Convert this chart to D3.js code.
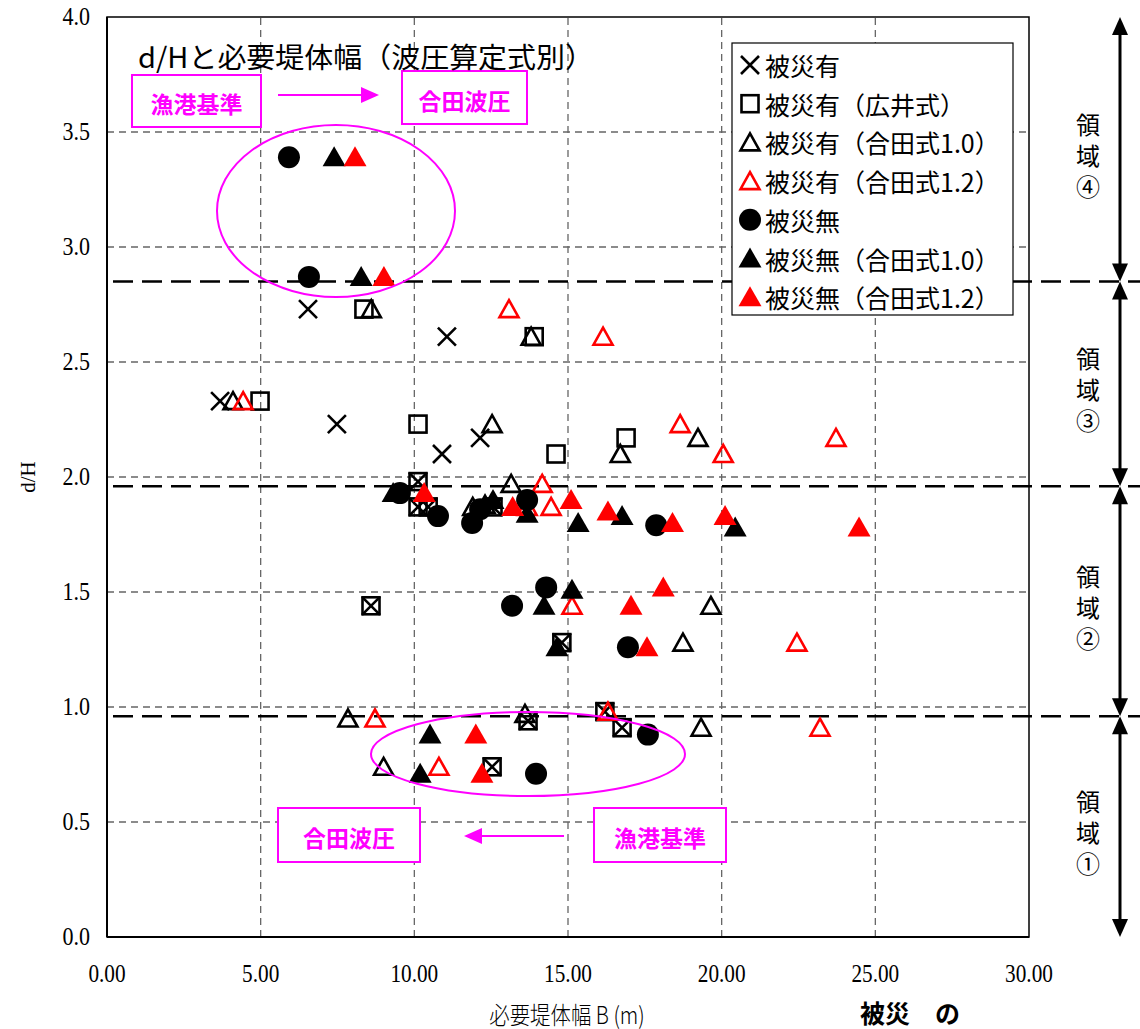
<!DOCTYPE html>
<html>
<head>
<meta charset="utf-8">
<script src="https://cdn.jsdelivr.net/npm/d3@7"></script>
<style>
  body { margin: 0; background: #fff; }
  svg { display: block; }
</style>
</head>
<body>
<div id="chart"></div>
<script>
// 被災有 (×)
const hisaiX = [[3.68,2.33],[6.54,2.73],[7.48,2.23],[11.06,2.61],[10.9,2.10],[12.14,2.17],
  [10.12,1.98],[10.12,1.87],[10.45,1.87],[12.56,1.87],[8.59,1.44],[14.8,1.28],[13.7,0.94],[16.2,0.98],[16.76,0.91],[12.53,0.74]];
// 被災有(広井式) (□)
const hisaiHiroi = [[4.98,2.33],[8.36,2.73],[13.9,2.61],[10.12,2.23],[14.61,2.10],[16.89,2.17],
  [10.12,1.98],[10.12,1.87],[10.45,1.87],[12.56,1.87],[8.59,1.44],[14.8,1.28],[13.7,0.94],[16.2,0.98],[16.76,0.91],[12.53,0.74]];
// 被災有(合田式1.0) (△ black)
const hisaiGoda10 = [[4.1,2.33],[8.6,2.73],[13.8,2.61],[12.53,2.23],[16.7,2.10],[19.23,2.17],[13.15,1.97],
  [11.9,1.87],[12.3,1.88],[19.65,1.44],[18.74,1.28],[7.84,0.95],[13.6,0.97],[19.33,0.91],[9.0,0.74]];
// 被災有(合田式1.2) (△ red)
const hisaiGoda12 = [[4.43,2.33],[13.08,2.73],[16.14,2.61],[18.65,2.23],[20.05,2.10],[23.72,2.17],[14.16,1.97],
  [13.67,1.87],[14.45,1.87],[15.13,1.44],[22.45,1.28],[8.72,0.95],[16.3,0.98],[23.2,0.91],[10.8,0.74]];
// 被災無 (●)
const mujiCircle = [[5.92,3.39],[6.57,2.87],[9.53,1.93],[10.77,1.83],[11.88,1.80],[12.14,1.86],[13.67,1.90],
  [17.87,1.79],[14.29,1.52],[13.18,1.44],[16.95,1.26],[17.6,0.88],[13.96,0.71]];
// 被災無(合田式1.0) (▲ black)
const mujiGoda10 = [[7.39,3.39],[8.27,2.87],[9.31,1.93],[12.56,1.90],[13.67,1.84],[15.33,1.80],[16.76,1.83],
  [20.44,1.78],[15.13,1.51],[14.22,1.44],[14.64,1.26],[10.51,0.88],[10.19,0.71]];
// 被災無(合田式1.2) (▲ red)
const mujiGoda12 = [[8.07,3.39],[9.01,2.87],[10.32,1.93],[13.2,1.87],[15.1,1.90],[16.3,1.85],[18.4,1.80],
  [20.11,1.83],[24.47,1.78],[17.05,1.44],[18.1,1.52],[17.57,1.26],[12.0,0.88],[12.2,0.71]];

const legendLabels = ['被災有','被災有（広井式）','被災有（合田式1.0）','被災有（合田式1.2）','被災無','被災無（合田式1.0）','被災無（合田式1.2）'];
const thresholds = [2.85, 1.96, 0.96];
const regionLabels = ['領域④','領域③','領域②','領域①'];
const xTicks = [0,5,10,15,20,25,30];
const yTicks = [0,0.5,1,1.5,2,2.5,3,3.5,4];

const W = 1140, H = 1029;
const margin = { left: 107, right: 111, top: 17, bottom: 92 };
const jp = '"Noto Sans CJK JP", "Noto Sans", sans-serif';
const serif = '"Liberation Serif", "DejaVu Serif", serif';

const svg = d3.select('#chart').append('svg')
  .attr('width', W).attr('height', H);

const x = d3.scaleLinear().domain([0, 30]).range([margin.left, W - margin.right]);
const y = d3.scaleLinear().domain([0, 4]).range([H - margin.bottom, margin.top]);

// grid
svg.append('g').selectAll('line').data(xTicks.slice(1, -1)).join('line')
  .attr('x1', d => x(d)).attr('x2', d => x(d))
  .attr('y1', y(0)).attr('y2', y(4))
  .attr('stroke', '#666').attr('stroke-width', 1.3).attr('stroke-dasharray', '7,5');
svg.append('g').selectAll('line').data(yTicks.slice(1, -1)).join('line')
  .attr('x1', x(0)).attr('x2', x(30))
  .attr('y1', d => y(d)).attr('y2', d => y(d))
  .attr('stroke', '#666').attr('stroke-width', 1.3).attr('stroke-dasharray', '7,5');

// frame
svg.append('rect')
  .attr('x', x(0)).attr('y', y(4))
  .attr('width', x(30) - x(0)).attr('height', y(0) - y(4))
  .attr('fill', 'none').attr('stroke', '#000').attr('stroke-width', 1.5);
svg.append('line')
  .attr('x1', x(0)).attr('x2', x(30)).attr('y1', y(0)).attr('y2', y(0))
  .attr('stroke', '#000').attr('stroke-width', 2);
svg.append('line')
  .attr('x1', x(0)).attr('x2', x(0)).attr('y1', y(0)).attr('y2', y(4))
  .attr('stroke', '#000').attr('stroke-width', 2);

// axes labels
svg.append('g').selectAll('text').data(yTicks).join('text')
  .attr('transform', d => `translate(${x(0) - 17},${y(d)}) scale(0.88,1)`)
  .attr('text-anchor', 'end').attr('dominant-baseline', 'central')
  .attr('font-family', serif).attr('font-size', 25)
  .text(d => d.toFixed(1));
svg.append('g').selectAll('text').data(xTicks).join('text')
  .attr('transform', d => `translate(${x(d)},${y(0) + 36}) scale(0.85,1)`)
  .attr('text-anchor', 'middle').attr('dominant-baseline', 'central')
  .attr('font-family', serif).attr('font-size', 25)
  .text(d => d.toFixed(2));
svg.append('text')
  .attr('transform', `translate(28,${(y(0) + y(4)) / 2}) rotate(-90)`)
  .attr('text-anchor', 'middle').attr('dominant-baseline', 'central')
  .attr('font-family', serif).attr('font-size', 21)
  .text('d/H');
svg.append('text')
  .attr('transform', `translate(567,1013) scale(0.85,1)`)
  .attr('text-anchor', 'middle').attr('dominant-baseline', 'central')
  .attr('font-family', jp).attr('font-size', 24).attr('font-weight', 300)
  .text('必要堤体幅 B (m)');
svg.append('text')
  .attr('x', 860).attr('y', 1012)
  .attr('dominant-baseline', 'central')
  .attr('font-family', jp).attr('font-size', 25).attr('font-weight', 'bold')
  .attr('xml:space', 'preserve')
  .text('被災　の');

// threshold lines
svg.append('g').selectAll('line').data(thresholds).join('line')
  .attr('x1', x(0) + 6).attr('x2', W)
  .attr('y1', d => y(d)).attr('y2', d => y(d))
  .attr('stroke', '#000').attr('stroke-width', 2.5).attr('stroke-dasharray', '20,9');

// region arrows
const bounds = [4, ...thresholds, 0];
const ax = 1120;
const arrows = svg.append('g');
regionLabels.forEach((lab, i) => {
  const top = y(bounds[i]), bot = y(bounds[i + 1]);
  arrows.append('line')
    .attr('x1', ax).attr('x2', ax).attr('y1', top + 10).attr('y2', bot - 10)
    .attr('stroke', '#000').attr('stroke-width', 3);
  arrows.append('path')
    .attr('d', `M${ax},${top} L${ax - 8},${top + 18} L${ax + 8},${top + 18} Z`).attr('fill', '#000');
  arrows.append('path')
    .attr('d', `M${ax},${bot} L${ax - 8},${bot - 18} L${ax + 8},${bot - 18} Z`).attr('fill', '#000');
  const mid = (top + bot) / 2;
  arrows.append('text')
    .attr('x', 1088).attr('y', mid + 10)
    .attr('text-anchor', 'middle')
    .style('writing-mode', 'vertical-rl')
    .style('letter-spacing', '7px')
    .attr('font-family', jp).attr('font-size', 24)
    .text(lab);
});

// markers
const RED = '#ff0000';
function drawMarker(g, type, color, cx, cy) {
  if (type === 'x') {
    const s = 9;
    g.append('path').attr('d', `M${cx - s},${cy - s}L${cx + s},${cy + s}M${cx - s},${cy + s}L${cx + s},${cy - s}`)
      .attr('stroke', color).attr('stroke-width', 2.6).attr('fill', 'none');
  } else if (type === 'sq') {
    g.append('rect').attr('x', cx - 8.5).attr('y', cy - 8.5).attr('width', 17).attr('height', 17)
      .attr('fill', 'none').attr('stroke', color).attr('stroke-width', 2.6);
  } else if (type === 'triO') {
    g.append('path').attr('d', `M${cx},${cy - 9} L${cx + 9.5},${cy + 8} L${cx - 9.5},${cy + 8} Z`)
      .attr('fill', 'none').attr('stroke', color).attr('stroke-width', 2.6);
  } else if (type === 'triF') {
    g.append('path').attr('d', `M${cx},${cy - 11} L${cx + 11.5},${cy + 9} L${cx - 11.5},${cy + 9} Z`)
      .attr('fill', color);
  } else if (type === 'circ') {
    g.append('circle').attr('cx', cx).attr('cy', cy).attr('r', 11).attr('fill', color);
  }
}
const series = [
  { data: hisaiX, type: 'x', color: '#000' },
  { data: hisaiHiroi, type: 'sq', color: '#000' },
  { data: hisaiGoda10, type: 'triO', color: '#000' },
  { data: hisaiGoda12, type: 'triO', color: RED },
  { data: mujiCircle, type: 'circ', color: '#000' },
  { data: mujiGoda10, type: 'triF', color: '#000' },
  { data: mujiGoda12, type: 'triF', color: RED }
];
const marks = svg.append('g');
series.forEach(s => {
  s.data.forEach(d => drawMarker(marks, s.type, s.color, x(d[0]), y(d[1])));
});

// magenta annotations
const MAG = '#ff00ff';
const ann = svg.append('g');
ann.append('ellipse').attr('cx', 336).attr('cy', 211).attr('rx', 119).attr('ry', 86)
  .attr('fill', 'none').attr('stroke', MAG).attr('stroke-width', 2);
ann.append('ellipse').attr('cx', 528).attr('cy', 754).attr('rx', 157).attr('ry', 42)
  .attr('fill', 'none').attr('stroke', MAG).attr('stroke-width', 2);
const boxes = [
  { x: 132, y: 75, w: 129, h: 52, t: '漁港基準' },
  { x: 402, y: 71, w: 125, h: 53, t: '合田波圧' },
  { x: 278, y: 808, w: 142, h: 54, t: '合田波圧' },
  { x: 594, y: 808, w: 132, h: 54, t: '漁港基準' }
];
boxes.forEach(b => {
  ann.append('rect').attr('x', b.x).attr('y', b.y).attr('width', b.w).attr('height', b.h)
    .attr('fill', '#fff').attr('stroke', MAG).attr('stroke-width', 2);
  ann.append('text').attr('x', b.x + b.w / 2).attr('y', b.y + b.h / 2 + 2)
    .attr('text-anchor', 'middle').attr('dominant-baseline', 'central')
    .attr('font-family', jp).attr('font-size', 23).attr('font-weight', 'bold')
    .attr('fill', MAG).text(b.t);
});
function arrow(x1, x2, yy) {
  const dir = Math.sign(x2 - x1);
  ann.append('line').attr('x1', x1).attr('x2', x2 - dir * 16).attr('y1', yy).attr('y2', yy)
    .attr('stroke', MAG).attr('stroke-width', 2);
  ann.append('path').attr('d', `M${x2},${yy} L${x2 - dir * 18},${yy - 8} L${x2 - dir * 18},${yy + 8} Z`)
    .attr('fill', MAG);
}
arrow(278, 379, 95);
arrow(564, 464, 836);

// title
svg.append('text')
  .attr('x', 138).attr('y', 56)
  .attr('dominant-baseline', 'central')
  .attr('font-family', jp).attr('font-size', 28)
  .attr('textLength', 456).attr('lengthAdjust', 'spacingAndGlyphs')
  .text('d/Hと必要堤体幅（波圧算定式別）');

// legend
const lg = svg.append('g');
lg.append('rect').attr('x', 732).attr('y', 43).attr('width', 281).attr('height', 272)
  .attr('fill', '#fff').attr('stroke', '#000').attr('stroke-width', 1.2);
series.forEach((s, i) => {
  const ly = 65 + i * 38.7;
  drawMarker(lg, s.type, s.color, 750, ly);
  lg.append('text').attr('x', 765).attr('y', ly)
    .attr('dominant-baseline', 'central')
    .attr('font-family', jp).attr('font-size', 25)
    .text(legendLabels[i]);
});
</script>
</body>
</html>
